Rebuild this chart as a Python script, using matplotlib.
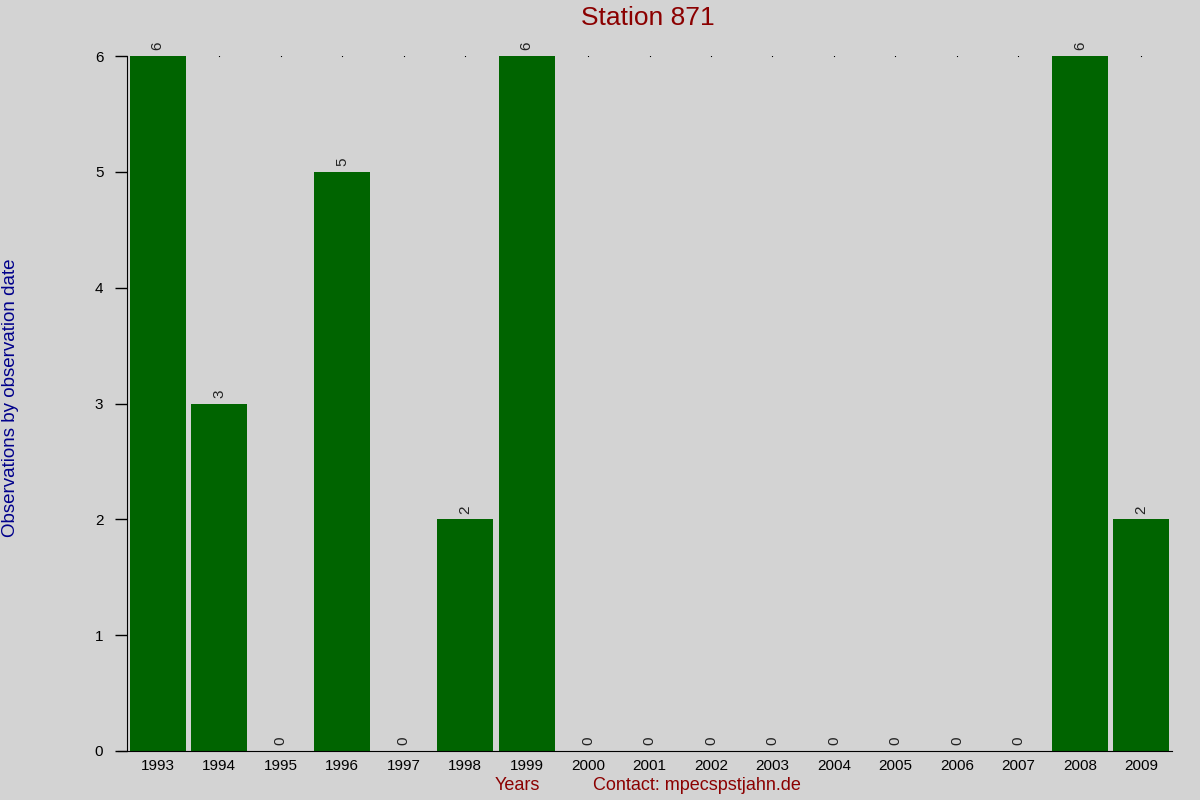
import matplotlib
matplotlib.use('Agg')
import matplotlib.pyplot as plt

# data
years = ['1993', '1994', '1995', '1996', '1997', '1998', '1999', '2000', '2001',
         '2002', '2003', '2004', '2005', '2006', '2007', '2008', '2009']
counts = [6, 3, 0, 5, 0, 2, 6, 0, 0, 0, 0, 0, 0, 0, 0, 6, 2]
y_ticks = [0, 1, 2, 3, 4, 5, 6]

plt.rcParams['font.family'] = ['Liberation Sans', 'DejaVu Sans']
bg = '#d3d3d3'

fig = plt.figure(figsize=(12, 8), dpi=100, facecolor=bg)
ax = fig.add_axes([0.1058, 0.06125, 0.8709, 0.86875])
ax.set_facecolor(bg)

x = list(range(len(years)))
ax.bar(x, counts, width=0.91, color='#006400', zorder=2)

# small dots along the top line
ax.plot(x, [max(y_ticks)] * len(x), linestyle='none', marker='s', markersize=0.8,
        markeredgewidth=0, color='black', zorder=1)

for xi, c in zip(x, counts):
    ax.text(xi, c + 0.05, str(c), rotation=90, ha='center', va='bottom',
            fontsize=11, color='#222222')

ax.set_xlim(-0.5, len(years) - 0.5)
ax.set_ylim(0, 6)
ax.set_xticks(x)
ax.set_xticklabels(years, fontsize=11)
ax.set_yticks(y_ticks)
ax.set_yticklabels([str(t) for t in y_ticks], fontsize=11)
ax.tick_params(axis='x', length=0, pad=6)
ax.tick_params(axis='y', length=9, width=1, direction='out', pad=8)

ax.spines['top'].set_visible(False)
ax.spines['right'].set_visible(False)
ax.spines['bottom'].set_bounds(-0.65, len(years) - 0.5)

fig.text(0.54, 0.977, 'Station 871', ha='center', va='center', fontsize=19,
         color='#8b0000')
fig.text(0.009, 0.503, 'Observations by observation date', rotation=90,
         ha='center', va='center', fontsize=13.5, color='#00008b')
fig.text(0.431, 0.018, 'Years', ha='center', va='center', fontsize=13,
         color='#8b0000')
fig.text(0.581, 0.018, 'Contact: mpecspstjahn.de', ha='center', va='center',
         fontsize=13, color='#8b0000')

fig.savefig('out.png', dpi=100, facecolor=bg)
